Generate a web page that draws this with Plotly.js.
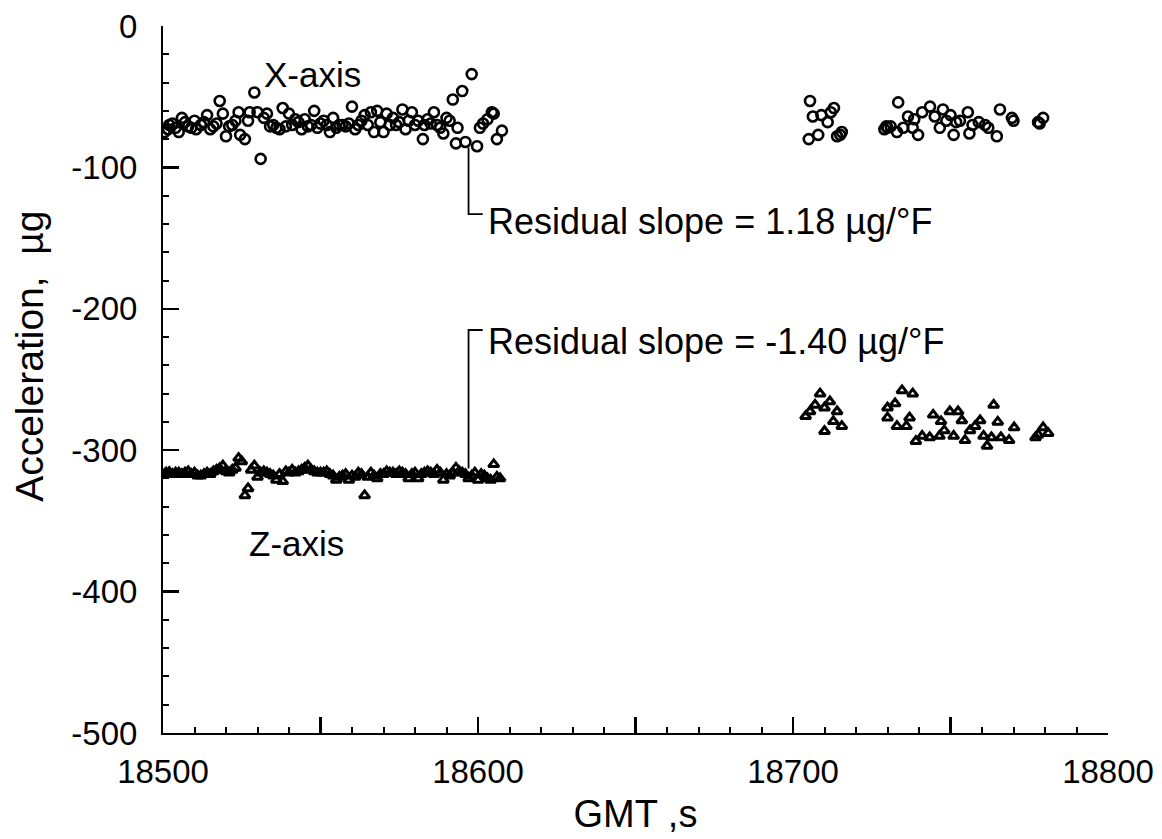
<!DOCTYPE html>
<html>
<head>
<meta charset="utf-8">
<script src="https://cdn.plot.ly/plotly-3.0.1.min.js"></script>
<style>html,body{margin:0;padding:0;background:#fff;}#chart{width:1162px;height:839px;}</style>
</head>
<body>
<div id="chart"></div>
<script>
// X-axis sensor, first segment
const xAxisTimeA = [18500.5,18501.6,18503,18505,18506,18508,18510,18510.5,18512,18514,18515,18517,18518,18519,18520,18521,18523,18524,18524.5,18526,18527,18527.5,18529,18530,18531,18532,18534,18535,18537,18538,18539,18540,18542,18544,18545,18547,18548,18550,18551,18553,18554,18556,18557,18559,18560,18561,18563,18564,18566,18567,18568,18570,18571,18572,18573,18576,18577,18578,18579,18581,18582.5,18584,18585,18586,18589,18590,18592,18593,18593.5,18595,18596,18598,18599.7,18600.6,18601.6,18603,18604.4,18605,18606,18607.6,
  18502,18504,18507,18509,18513,18516,18522,18533,18536,18541,18543,18546,18549,18552,18555,18558,18562,18565,18569,18574,18575,18580,18583,18587,18588,18591];
const xAxisAccA = [-75,-73,-69,-75,-65,-71,-67,-73,-70,-63,-73,-69,-53,-62,-78,-71,-67,-61,-77,-80,-67,-61,-47,-61,-94,-65,-71,-70,-73,-58,-71,-62,-66,-73,-66,-70,-60,-69,-67,-75,-65,-70,-70,-69,-57,-73,-67,-63,-61,-75,-60,-75,-62,-70,-65,-59,-73,-67,-61,-67,-80,-66,-69,-61,-76,-65,-52,-83,-72,-46,-82,-34,-85,-72,-69,-66,-61,-62,-80,-74,
  -70,-72,-68,-72,-68,-71,-70,-62,-72,-70,-68,-71,-72,-70,-72,-71,-70,-70,-68,-70,-68,-70,-70,-70,-72,-67];
// X-axis sensor, second segment
const xAxisTimeB = [18705,18705.4,18706.3,18708,18709,18711,18712,18713,18714,18715,18715.5,18729.6,18730,18733,18733.4,18735,18736.5,18738,18738.5,18739.7,18741,18743.5,18745,18746.6,18747.6,18748.7,18750,18751,18751.8,18753,18755.5,18756,18757,18759,18761,18762,18764.7,18765.7,18769.5,18770,18777.8,18778.3,18779.4,18729,18731];
const xAxisAccB = [-80,-53,-64,-77,-63,-68,-61,-58,-78,-77,-75,-71,-72,-75,-54,-72,-64,-72,-66,-77,-61,-57,-64,-72,-59,-67,-63,-77,-68,-67,-61,-76,-70,-68,-70,-72,-78,-59,-65,-67,-68,-69,-65,-73,-71];
// Z-axis sensor, first segment
const zAxisTimeA = [18500.5,18501,18502,18503,18504,18505,18506,18507,18508,18509,18510,18511,18512,18513,18514,18515,18516,18517,18518,18519,18520,18521,18522,18523,18524,18525,18526,18527,18528,18529,18530,18531,18532,18533,18534,18535,18536,18537,18538,18539,18540,18541,18542,18543,18544,18545,18546,18547,18548,18549,18550,18551,18552,18553,18554,18555,18556,18557,18558,18559,18560,18561,18562,18563,18564,18565,18566,18567,18568,18569,18570,18571,18572,18573,18574,18575,18576,18577,18578,18579,18580,18581,18582,18583,18584,18585,18586,18587,18588,18589,18590,18591,18592,18593,18594,18595,18596,18597,18598,18599,18600,18601,18602,18603,18604,18605,18606,18607];
const zAxisAccA = [-317,-316,-315.5,-317,-316,-316,-317,-316,-315,-317,-316,-318,-318,-317,-316,-317,-315,-314,-313,-311,-315,-316,-314,-312.5,-305.6,-308,-332,-327,-314,-311,-319,-316,-315,-316,-317,-318,-321,-317,-322,-315,-316,-314,-316,-315,-314,-312.5,-311,-314,-315,-316,-316,-316,-315,-317,-318,-321,-319,-318,-317,-321,-318,-319,-316,-317,-332,-319,-316,-318,-320,-317,-317,-315,-316,-316,-317,-315,-316,-317,-320,-317,-316,-320,-317,-316,-315,-316,-317,-314,-316,-321,-317,-318,-316,-312.5,-315,-316,-317,-320,-318,-316,-321,-317,-318,-320,-321,-310,-319,-320];
// Z-axis sensor, second segment
const zAxisTimeB = [18704,18705.4,18707,18708.6,18710,18711.7,18712.8,18714,18715.5,18710,18730,18730,18732.4,18733,18734.6,18736,18737,18738,18739,18741,18743.4,18744.5,18746.5,18747,18748,18749.8,18751,18752.4,18753.6,18754.6,18756.2,18757.8,18759.4,18760.5,18761.6,18763,18763.7,18765,18766,18768.6,18770.2,18777,18777.8,18779.4,18781];
const zAxisAccB = [-276,-272.6,-268,-260,-270,-265.6,-279.6,-272.6,-283,-286.6,-270,-277,-267,-283,-257.7,-283,-277,-260,-293.6,-290,-291,-275,-290,-279.6,-286,-272.6,-290,-272.6,-279,-293,-286,-283,-279,-290,-297,-291,-268,-280,-291,-293,-284,-291,-289,-284,-288];

// Leader lines for the residual slope notes (data coordinates)
const leaderXTime = [18597, 18597, 18601.5];
const leaderXAcc = [-86, -133, -133];
const leaderZTime = [18597, 18597, 18601.5];
const leaderZAcc = [-313, -215, -215];

const xTickVals = [18500, 18550, 18600, 18650, 18700, 18750, 18800];
const xTickText = ['18500', '', '18600', '', '18700', '', '18800'];
const yTickVals = [0, -100, -200, -300, -400, -500];
const yTickText = ['0', '-100', '-200', '-300', '-400', '-500'];

const xTitle = 'GMT ,s';
const yTitle = 'Acceleration,\u00a0\u00a0\u00b5g';
const noteTexts = ['X-axis', 'Z-axis', 'Residual slope = 1.18 \u00b5g/\u00b0F', 'Residual slope = -1.40 \u00b5g/\u00b0F'];

const FONT = 'Liberation Sans, Arial, Helvetica, sans-serif';

const circleMarker = {symbol: 'circle-open', size: 10, color: 'black', line: {color: 'black', width: 2.6}};
const triMarker = {symbol: 'triangle-up-open', size: 9, color: 'black', line: {color: 'black', width: 3}};

const traces = [
  {x: xAxisTimeA.concat(xAxisTimeB), y: xAxisAccA.concat(xAxisAccB), type: 'scatter', mode: 'markers', name: 'X-axis', marker: circleMarker, showlegend: false},
  {x: zAxisTimeA.concat(zAxisTimeB), y: zAxisAccA.concat(zAxisAccB), type: 'scatter', mode: 'markers', name: 'Z-axis', marker: triMarker, showlegend: false},
  {x: leaderXTime, y: leaderXAcc, type: 'scatter', mode: 'lines', line: {color: 'black', width: 1.8}, showlegend: false, hoverinfo: 'skip'},
  {x: leaderZTime, y: leaderZAcc, type: 'scatter', mode: 'lines', line: {color: 'black', width: 1.8}, showlegend: false, hoverinfo: 'skip'}
];

const layout = {
  width: 1162, height: 839,
  margin: {l: 163, r: 54, t: 26, b: 106},
  paper_bgcolor: 'white', plot_bgcolor: 'white',
  font: {family: FONT, color: 'black'},
  showlegend: false,
  xaxis: {
    range: [18500, 18800], showgrid: false, zeroline: false,
    showline: true, linecolor: 'black', linewidth: 2,
    tickmode: 'array', tickvals: xTickVals, ticktext: xTickText,
    ticks: 'inside', ticklen: 16, tickwidth: 2.5, tickcolor: 'black',
    minor: {tickmode: 'linear', tick0: 18500, dtick: 10, ticks: 'inside', ticklen: 6, tickwidth: 2, tickcolor: 'black', showgrid: false},
    tickfont: {family: FONT, size: 33, color: 'black'},
    ticklabelstandoff: 8,
    title: {text: xTitle, font: {family: FONT, size: 38, color: 'black'}, standoff: 12}
  },
  yaxis: {
    range: [-500, 0], showgrid: false, zeroline: false,
    showline: true, linecolor: 'black', linewidth: 2,
    tickmode: 'array', tickvals: yTickVals, ticktext: yTickText,
    ticks: 'inside', ticklen: 16, tickwidth: 2.5, tickcolor: 'black',
    minor: {tickmode: 'linear', tick0: 0, dtick: 20, ticks: 'inside', ticklen: 6, tickwidth: 2, tickcolor: 'black', showgrid: false},
    tickfont: {family: FONT, size: 33, color: 'black'},
    ticklabelstandoff: 17
  },
  annotations: [
    {x: -0.142, y: 0.5332, xref: 'paper', yref: 'paper', text: yTitle, textangle: -90, showarrow: false, xanchor: 'center', yanchor: 'middle', font: {family: FONT, size: 39, color: 'black'}},
    {x: 18547.6, y: -34.5, xref: 'x', yref: 'y', text: noteTexts[0], showarrow: false, xanchor: 'center', yanchor: 'middle', font: {family: FONT, size: 35, color: 'black'}},
    {x: 18542.5, y: -366, xref: 'x', yref: 'y', text: noteTexts[1], showarrow: false, xanchor: 'center', yanchor: 'middle', font: {family: FONT, size: 35, color: 'black'}},
    {x: 18602.5, y: -138, xref: 'x', yref: 'y', text: noteTexts[2], showarrow: false, xanchor: 'left', yanchor: 'middle', font: {family: FONT, size: 36, color: 'black'}},
    {x: 18602.5, y: -223, xref: 'x', yref: 'y', text: noteTexts[3], showarrow: false, xanchor: 'left', yanchor: 'middle', font: {family: FONT, size: 36, color: 'black'}}
  ]
};

Plotly.newPlot('chart', traces, layout, {displayModeBar: false, staticPlot: true});
</script>
</body>
</html>
